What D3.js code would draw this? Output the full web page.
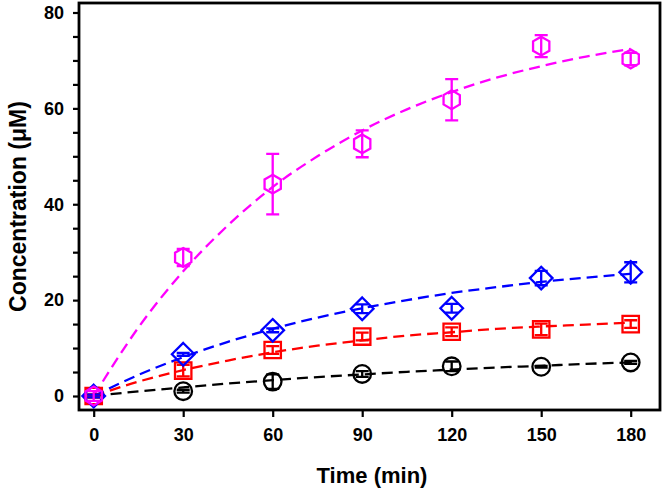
<!DOCTYPE html>
<html><head><meta charset="utf-8">
<script src="https://cdn.jsdelivr.net/npm/d3@7"></script>
<style>html,body{margin:0;padding:0;background:#fff;}svg{display:block;}</style>
</head><body>
<svg id="chart" width="666" height="492"></svg>
<script>
// ---- data ----
const times = [0, 30, 60, 90, 120, 150, 180];
const seriesNames = ["black", "red", "blue", "magenta"];
const blackValues   = [0, 1.0, 3.0, 4.6, 6.2, 6.1, 7.0];
const blackErrors   = [0.3, 0.3, 1.5, 0.6, 1.0, 0.2, 0.3];
const redValues     = [0, 5.3, 9.6, 12.4, 13.4, 13.9, 15.0];
const redErrors     = [0.3, 1.2, 0.8, 0.8, 0.9, 1.2, 0.8];
const blueValues    = [0, 8.7, 13.7, 18.2, 18.3, 24.6, 25.8];
const blueErrors    = [0.3, 0.3, 0.4, 0.9, 0.9, 1.5, 2.1];
const magentaValues = [0, 28.9, 44.2, 52.6, 61.8, 73.0, 70.3];
const magentaErrors = [1.0, 1.8, 6.3, 2.8, 4.3, 2.3, 1.3];
// fitted curves
const fitTimes   = [0, 15, 30, 45, 60, 75, 90, 105, 120, 135, 150, 165, 180];
const blackFit   = [0, 0.96, 1.8, 2.6, 3.3, 3.95, 4.5, 5.05, 5.5, 5.95, 6.3, 6.7, 7.0];
const redFit     = [0, 3.0, 5.4, 7.4, 9.1, 10.5, 11.6, 12.6, 13.3, 14.0, 14.5, 14.9, 15.3];
const blueFit    = [0, 4.4, 8.1, 11.3, 14.0, 16.35, 18.3, 20.0, 21.5, 22.7, 23.8, 24.7, 25.5];
const magentaFit = [0, 14.3, 26.0, 35.6, 43.6, 50.0, 55.4, 59.8, 63.4, 66.4, 68.8, 70.8, 72.4];
const xTicks = [0, 30, 60, 90, 120, 150, 180];
const yTicks = [0, 20, 40, 60, 80];
const yMinorTicks = [5, 10, 15, 25, 30, 35, 45, 50, 55, 65, 70, 75];
const xLabel = "Time (min)";
const yLabel = "Concentration (\u03BCM)";

const series = [
  {name: "black",   color: "#000000", shape: "circle",  values: blackValues,   errors: blackErrors,   fit: blackFit},
  {name: "red",     color: "#ff0000", shape: "square",  values: redValues,     errors: redErrors,     fit: redFit},
  {name: "blue",    color: "#0000ff", shape: "diamond", values: blueValues,    errors: blueErrors,    fit: blueFit},
  {name: "magenta", color: "#ff00ff", shape: "hexagon", values: magentaValues, errors: magentaErrors, fit: magentaFit}
];

// ---- layout ----
const svg = d3.select("#chart");
const frame = {left: 79, right: 660, top: 3, bottom: 410};
const x = d3.scaleLinear().domain([0, 180]).range([93.7, 630.7]);
const y = d3.scaleLinear().domain([0, 80]).range([396, 12.5]);
const font = "'Liberation Sans', Arial, sans-serif";

// axes (ticks outside the frame)
const yAxis = d3.axisLeft(y).tickValues(yTicks).tickSize(6).tickPadding(9).tickFormat(d3.format("d"));
const yAxisMinor = d3.axisLeft(y).tickValues(yMinorTicks).tickSize(6).tickFormat("");
const xAxis = d3.axisBottom(x).tickValues(xTicks).tickSize(7).tickPadding(11).tickFormat(d3.format("d"));

function styleAxis(g) {
  g.select(".domain").remove();
  g.selectAll(".tick line").attr("stroke", "#000").attr("stroke-width", 2.2);
  g.selectAll(".tick text").attr("fill", "#000").style("font-family", font)
    .style("font-size", "18px").style("font-weight", "bold");
}
svg.append("g").attr("transform", `translate(${frame.left},0)`).call(yAxisMinor).call(styleAxis);
svg.append("g").attr("transform", `translate(${frame.left},0)`).call(yAxis).call(styleAxis);
svg.append("g").attr("transform", `translate(0,${frame.bottom})`).call(xAxis).call(styleAxis);

// frame
svg.append("rect")
  .attr("x", frame.left).attr("y", frame.top)
  .attr("width", frame.right - frame.left).attr("height", frame.bottom - frame.top)
  .attr("fill", "none").attr("stroke", "#000").attr("stroke-width", 2.8);

// axis titles
svg.append("text").attr("x", 372).attr("y", 483).attr("text-anchor", "middle")
  .style("font-family", font).style("font-size", "22px").style("font-weight", "bold")
  .text(xLabel);
svg.append("text").attr("transform", "translate(26,206.5) rotate(-90)").attr("text-anchor", "middle")
  .style("font-family", font).style("font-size", "23px").style("font-weight", "bold")
  .text(yLabel);

// fit lines
const line = d3.line().x(d => x(d[0])).y(d => y(d[1])).curve(d3.curveMonotoneX);
series.forEach(s => {
  svg.append("path")
    .datum(fitTimes.map((t, i) => [t, s.fit[i]]))
    .attr("d", line)
    .attr("fill", "none").attr("stroke", s.color).attr("stroke-width", 2.3)
    .attr("stroke-dasharray", "11,6");
});

// markers
function shapePath(shape) {
  if (shape === "circle") {
    const r = 8.8; return `M${-r},0A${r},${r} 0 1,0 ${r},0A${r},${r} 0 1,0 ${-r},0Z`;
  }
  if (shape === "square") { const h = 8.2; return `M${-h},${-h}H${h}V${h}H${-h}Z`; }
  if (shape === "diamond") { const h = 11.3; return `M0,${-h}L${h},0L0,${h}L${-h},0Z`; }
  if (shape === "hexagon") {
    const r = 9.4, w = r * Math.sqrt(3) / 2;
    return `M0,${-r}L${w},${-r/2}L${w},${r/2}L0,${r}L${-w},${r/2}L${-w},${-r/2}Z`;
  }
}
series.forEach(s => {
  const g = svg.append("g");
  times.forEach((t, i) => {
    const cx = x(t), cy = y(s.values[i]);
    const top = y(s.values[i] + s.errors[i]), bot = y(s.values[i] - s.errors[i]);
    const cap = 6.5;
    g.append("path")
      .attr("d", `M${cx},${top}V${bot}M${cx - cap},${top}H${cx + cap}M${cx - cap},${bot}H${cx + cap}`)
      .attr("fill", "none").attr("stroke", s.color).attr("stroke-width", 2.3);
    g.append("path")
      .attr("d", shapePath(s.shape))
      .attr("transform", `translate(${cx},${cy})`)
      .attr("fill", "none").attr("stroke", s.color).attr("stroke-width", 2.3);
  });
});
</script>
</body></html>
